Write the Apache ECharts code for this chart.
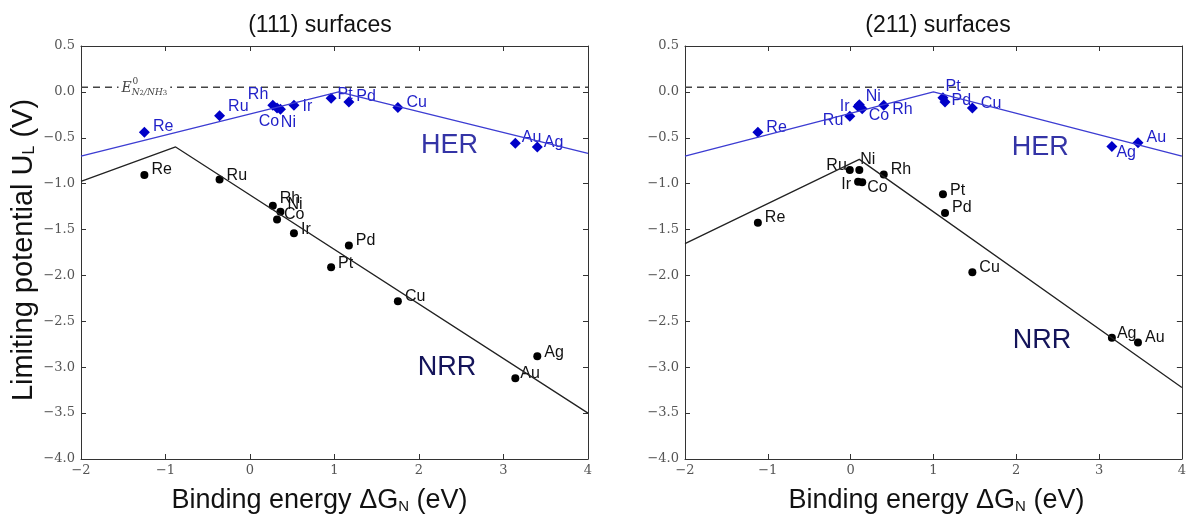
<!DOCTYPE html>
<html>
<head>
<meta charset="utf-8">
<script src="https://cdn.jsdelivr.net/npm/echarts@6/dist/echarts.min.js"></script>
<style>
html, body { margin: 0; padding: 0; background: #fff; }
#main { width: 1189px; height: 519px; }
</style>
</head>
<body>
<div id="main"></div>
<script>
var myChart = echarts.init(document.getElementById('main'));

// (111) surfaces
var metals111 = ['Re', 'Ru', 'Rh', 'Co', 'Ni', 'Ir', 'Pt', 'Pd', 'Cu', 'Au', 'Ag'];
var dGN111 = [-1.25, -0.36, 0.27, 0.32, 0.36, 0.52, 0.96, 1.17, 1.75, 3.14, 3.40];
var her111 = [-0.44, -0.26, -0.145, -0.175, -0.19, -0.145, -0.07, -0.11, -0.17, -0.56, -0.60];
var nrr111 = [-0.905, -0.955, -1.24, -1.39, -1.305, -1.54, -1.91, -1.675, -2.28, -3.12, -2.88];
var herLineX111 = [-2, 1.05, 4];
var herLineY111 = [-0.70, 0.0, -0.67];
var nrrLineX111 = [-2, -0.88, 4];
var nrrLineY111 = [-0.975, -0.60, -3.50];

// (211) surfaces
var metals211 = ['Re', 'Ru', 'Ir', 'Ni', 'Co', 'Rh', 'Pt', 'Pd', 'Cu', 'Ag', 'Au'];
var dGN211 = [-1.12, -0.01, 0.09, 0.105, 0.14, 0.40, 1.115, 1.14, 1.47, 3.155, 3.47];
var her211 = [-0.44, -0.265, -0.16, -0.14, -0.185, -0.145, -0.065, -0.11, -0.175, -0.595, -0.555];
var nrr211 = [-1.425, -0.85, -0.98, -0.85, -0.985, -0.90, -1.115, -1.32, -1.965, -2.68, -2.73];
var herLineX211 = [-2, 1.0, 4];
var herLineY211 = [-0.70, 0.0, -0.70];
var nrrLineX211 = [-2, 0.105, 4];
var nrrLineY211 = [-1.654, -0.735, -3.22];

var eqPotential = 0.05;
var xMin = -2, xMax = 4, yMin = -4, yMax = 0.5;
var titles = ['(111) surfaces', '(211) surfaces'];

// label placement: [position, dx, dy]
var place111her = {Re:['right',0,-6], Ru:['right',0,-9], Rh:['left',4,-11], Co:['bottom',-8,-3], Ni:['bottom',8,-3],
  Ir:['right',0,1], Pt:['right',-2,-4], Pd:['right',-1,-5], Cu:['right',0,-5], Au:['right',-2,-6], Ag:['right',-2,-4]};
var place111nrr = {Re:['right',0,-5], Ru:['right',0,-4], Rh:['right',0,-7], Ni:['right',0,-7], Co:['right',0,-5],
  Ir:['right',0,-4], Pt:['right',0,-4], Pd:['right',0,-5], Cu:['right',0,-5], Au:['right',-2,-5], Ag:['right',0,-4]};
var place211her = {Re:['right',0,-5], Ru:['left',2,4], Ir:['left',0,0], Ni:['right',-2,-8], Co:['right',-2,7],
  Rh:['right',0,4], Pt:['right',-6,-11], Pd:['right',-2,-1], Cu:['right',0,-4], Ag:['right',-4,6], Au:['right',0,-5]};
var place211nrr = {Re:['right',0,-5], Ru:['left',4,-4], Ir:['left',0,3], Ni:['right',-6,-10], Co:['right',-2,5],
  Rh:['right',0,-5], Pt:['right',0,-4], Pd:['right',0,-5], Cu:['right',0,-5], Ag:['right',-2,-4], Au:['right',0,-5]};

var sans = 'Liberation Sans, Arial, sans-serif';
var serif = 'DejaVu Serif, serif';

function pts(xs, ys) {
    var out = [];
    for (var i = 0; i < xs.length; i++) out.push([xs[i], ys[i]]);
    return out;
}
function labelled(names, xs, ys, place, color) {
    var out = [];
    for (var i = 0; i < names.length; i++) {
        var p = place[names[i]] || ['right', 0, 0];
        out.push({
            name: names[i],
            value: [xs[i], ys[i]],
            label: { show: true, position: p[0], offset: [p[1], p[2]], distance: 3,
                     formatter: '{b}', color: color, fontSize: 16, fontFamily: sans }
        });
    }
    return out;
}
function minus(s) { return String(s).replace('-', '\u2212'); }

var grids = [
    { left: 81, top: 46, width: 507, height: 429 },
    { left: 685, top: 46, width: 503, height: 429 }
];
var xAxes = [], yAxes = [], series = [];

function addPanel(g, names, xs, her, nrr, hlx, hly, nlx, nly, placeHer, placeNrr, herTxt, nrrTxt) {
    var axisLine = { show: true, onZero: false, lineStyle: { color: '#333', width: 1 } };
    var tick = { show: true, inside: true, length: 5, lineStyle: { color: '#333' } };
    var subRich = { sub: { fontSize: 15, fontFamily: sans, color: '#111', verticalAlign: 'bottom', padding: [11, 0, 0, 0] } };
    xAxes.push({
        type: 'value', gridIndex: g, min: xMin, max: xMax, interval: 1, position: 'bottom',
        axisLine: axisLine, axisTick: tick, splitLine: { show: false },
        axisLabel: { color: '#555', fontFamily: serif, fontSize: 13, margin: 5, formatter: minus },
        name: 'Binding energy \u0394G{sub|N} (eV)', nameLocation: 'middle', nameGap: 28,
        nameTextStyle: { color: '#111', fontFamily: sans, fontSize: 27,
            padding: g === 0 ? [0, 30, 0, 0] : [0, 0, 0, 6], rich: subRich }
    });
    xAxes.push({
        type: 'value', gridIndex: g, min: xMin, max: xMax, interval: 1, position: 'top',
        axisLine: axisLine, axisTick: tick, axisLabel: { show: false }, splitLine: { show: false }
    });
    var yMain = {
        type: 'value', gridIndex: g, min: yMin, max: yMax, interval: 0.5, position: 'left',
        axisLine: axisLine, axisTick: tick, splitLine: { show: false },
        axisLabel: { color: '#555', fontFamily: serif, fontSize: 13, margin: 6,
            formatter: function (v) { return minus(v.toFixed(1)); } }
    };
    if (g === 0) {
        yMain.name = 'Limiting potential U{sub|L} (V)';
        yMain.nameLocation = 'middle';
        yMain.nameGap = 43;
        yMain.nameTextStyle = { color: '#111', fontFamily: sans, fontSize: 29, padding: [0, 0, 0, 5],
            rich: { sub: { fontSize: 16, fontFamily: sans, color: '#111', verticalAlign: 'bottom', padding: [12, 0, 0, 0] } } };
    }
    yAxes.push(yMain);
    yAxes.push({
        type: 'value', gridIndex: g, min: yMin, max: yMax, interval: 0.5, position: 'right',
        axisLine: axisLine, axisTick: tick, axisLabel: { show: false }, splitLine: { show: false }
    });
    var xi = g * 2, yi = g * 2;
    series.push({
        type: 'line', xAxisIndex: xi, yAxisIndex: yi, data: [[xMin, eqPotential], [xMax, eqPotential]],
        symbol: 'none', silent: true, z: 1, lineStyle: { color: '#444', width: 1.6, type: [7, 5] }
    });
    series.push({
        type: 'line', xAxisIndex: xi, yAxisIndex: yi, data: pts(hlx, hly),
        symbol: 'none', lineStyle: { color: '#3c3cd2', width: 1.3 }
    });
    series.push({
        type: 'line', xAxisIndex: xi, yAxisIndex: yi, data: pts(nlx, nly),
        symbol: 'none', lineStyle: { color: '#222', width: 1.3 }
    });
    series.push({
        type: 'scatter', xAxisIndex: xi, yAxisIndex: yi, symbol: 'diamond', symbolSize: 11,
        itemStyle: { color: '#0000c8', opacity: 1 }, data: labelled(names, xs, her, placeHer, '#1f1fc8')
    });
    series.push({
        type: 'scatter', xAxisIndex: xi, yAxisIndex: yi, symbol: 'circle', symbolSize: 8,
        itemStyle: { color: '#000', opacity: 1 }, data: labelled(names, xs, nrr, placeNrr, '#111')
    });
    // region names
    series.push({
        type: 'scatter', xAxisIndex: xi, yAxisIndex: yi, symbolSize: 0, silent: true,
        itemStyle: { opacity: 1 },
        data: [
            { value: herTxt, label: { show: true, position: 'inside', formatter: 'HER', color: '#3434a6', fontSize: 27, fontFamily: sans } },
            { value: nrrTxt, label: { show: true, position: 'inside', formatter: 'NRR', color: '#14145a', fontSize: 27, fontFamily: sans } }
        ]
    });
}

addPanel(0, metals111, dGN111, her111, nrr111, herLineX111, herLineY111, nrrLineX111, nrrLineY111,
    place111her, place111nrr, [2.36, -0.59], [2.33, -3.0]);
addPanel(1, metals211, dGN211, her211, nrr211, herLineX211, herLineY211, nrrLineX211, nrrLineY211,
    place211her, place211nrr, [2.29, -0.61], [2.31, -2.71]);

// equilibrium potential label on the (111) panel
series.push({
    type: 'scatter', xAxisIndex: 0, yAxisIndex: 0, symbolSize: 0, silent: true, z: 3,
    itemStyle: { opacity: 1 },
    data: [
        { value: [-1.25, 0.035], label: { show: true, position: 'inside',
            formatter: '{e|E}{s|N}{ss|2}{s|/NH}{ss|3}', backgroundColor: '#fff', padding: [0, 3, 0, 3],
            rich: {
                e: { fontFamily: serif, fontStyle: 'italic', fontSize: 14, color: '#444' },
                s: { fontFamily: serif, fontStyle: 'italic', fontSize: 9, color: '#444', verticalAlign: 'bottom', padding: [8, 0, 0, 0] },
                ss: { fontFamily: serif, fontSize: 7, color: '#444', verticalAlign: 'bottom', padding: [10, 0, 0, 0] }
            } } },
        { value: [-1.25, 0.035], label: { show: true, position: 'inside', offset: [-9, -7],
            formatter: '0', fontFamily: serif, fontSize: 9, color: '#444' } }
    ]
});

var option = {
    animation: false,
    backgroundColor: '#fff',
    grid: grids,
    xAxis: xAxes,
    yAxis: yAxes,
    series: series,
    graphic: [
        { type: 'text', x: 320, y: 26, style: { text: titles[0], font: '23px ' + sans, fill: '#111', textAlign: 'center', textVerticalAlign: 'middle' } },
        { type: 'text', x: 938, y: 26, style: { text: titles[1], font: '23px ' + sans, fill: '#111', textAlign: 'center', textVerticalAlign: 'middle' } }
    ]
};
myChart.setOption(option);
window.onresize = myChart.resize;
</script>
</body>
</html>
